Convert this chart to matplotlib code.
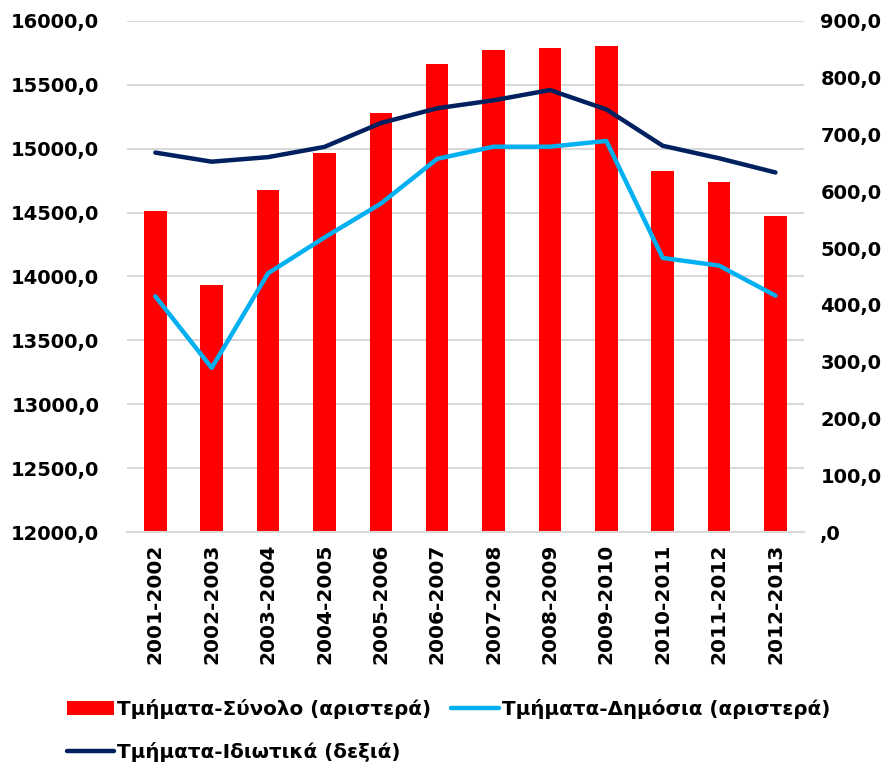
import matplotlib.pyplot as plt
from matplotlib.ticker import FuncFormatter

years = ["2001-2002", "2002-2003", "2003-2004", "2004-2005", "2005-2006", "2006-2007",
         "2007-2008", "2008-2009", "2009-2010", "2010-2011", "2011-2012", "2012-2013"]
total = [14515, 13935, 14680, 14965, 15280, 15665, 15775, 15790, 15805, 14825, 14740, 14475]
public = [13845, 13285, 14025, 14305, 14570, 14920, 15015, 15015, 15060, 14145, 14085, 13850]
private = [668, 652, 660, 678, 720, 746, 760, 778, 744, 680, 658, 633]

plt.rcParams["font.family"] = "DejaVu Sans"

fig = plt.figure(figsize=(8.89, 7.68), dpi=100)
ax = fig.add_axes([0.143, 0.307, 0.761, 0.666])
ax2 = ax.twinx()

x = range(len(years))
bars = ax.bar(x, total, width=0.4, color="#ff0000", zorder=2,
              label="Τμήματα-Σύνολο (αριστερά)")
l_pub, = ax.plot(x, public, color="#00b0f0", linewidth=3.2, solid_capstyle="round",
                 solid_joinstyle="round", zorder=3, label="Τμήματα-Δημόσια (αριστερά)")
l_priv, = ax2.plot(x, private, color="#002060", linewidth=3.2, solid_capstyle="round",
                   solid_joinstyle="round", zorder=3, label="Τμήματα-Ιδιωτικά (δεξιά)")

ax.set_xlim(-0.5, len(years) - 0.5)
ax.set_ylim(12000, 16000)
ax.set_yticks(range(12000, 16001, 500))
ax2.set_ylim(0, 900)
ax2.set_yticks(range(0, 901, 100))


def comma_fmt(v, pos):
    s = f"{v:.1f}".replace(".", ",")
    return s[1:] if s.startswith("0,") else s


ax.yaxis.set_major_formatter(FuncFormatter(comma_fmt))
ax2.yaxis.set_major_formatter(FuncFormatter(comma_fmt))

ax.grid(axis="y", color="#d9d9d9", linewidth=1.5, zorder=0)
ax.set_axisbelow(True)
for a in (ax, ax2):
    for s in a.spines.values():
        s.set_visible(False)
ax.spines["bottom"].set_visible(True)
ax.spines["bottom"].set_color("#d9d9d9")
ax.spines["bottom"].set_linewidth(1.5)

ax.set_xticks(list(x))
ax.set_xticklabels(years, rotation=90, fontsize=14.5, fontweight="bold")
ax.tick_params(axis="x", length=0, pad=8)
ax.tick_params(axis="y", length=0, pad=20, labelsize=14)
ax2.tick_params(axis="y", length=0, pad=12, labelsize=14)
for lab in ax.get_yticklabels() + ax2.get_yticklabels():
    lab.set_fontweight("bold")

fig.legend([bars, l_priv, l_pub],
           [bars.get_label(), l_priv.get_label(), l_pub.get_label()],
           ncol=2, loc="upper left", bbox_to_anchor=(0.055, 0.113),
           frameon=False, handlelength=2.4, handletextpad=0.15, columnspacing=1.0,
           labelspacing=1.15,
           prop={"family": "DejaVu Sans", "weight": "bold", "size": 14.3})

fig.savefig("out.png", dpi=100)
